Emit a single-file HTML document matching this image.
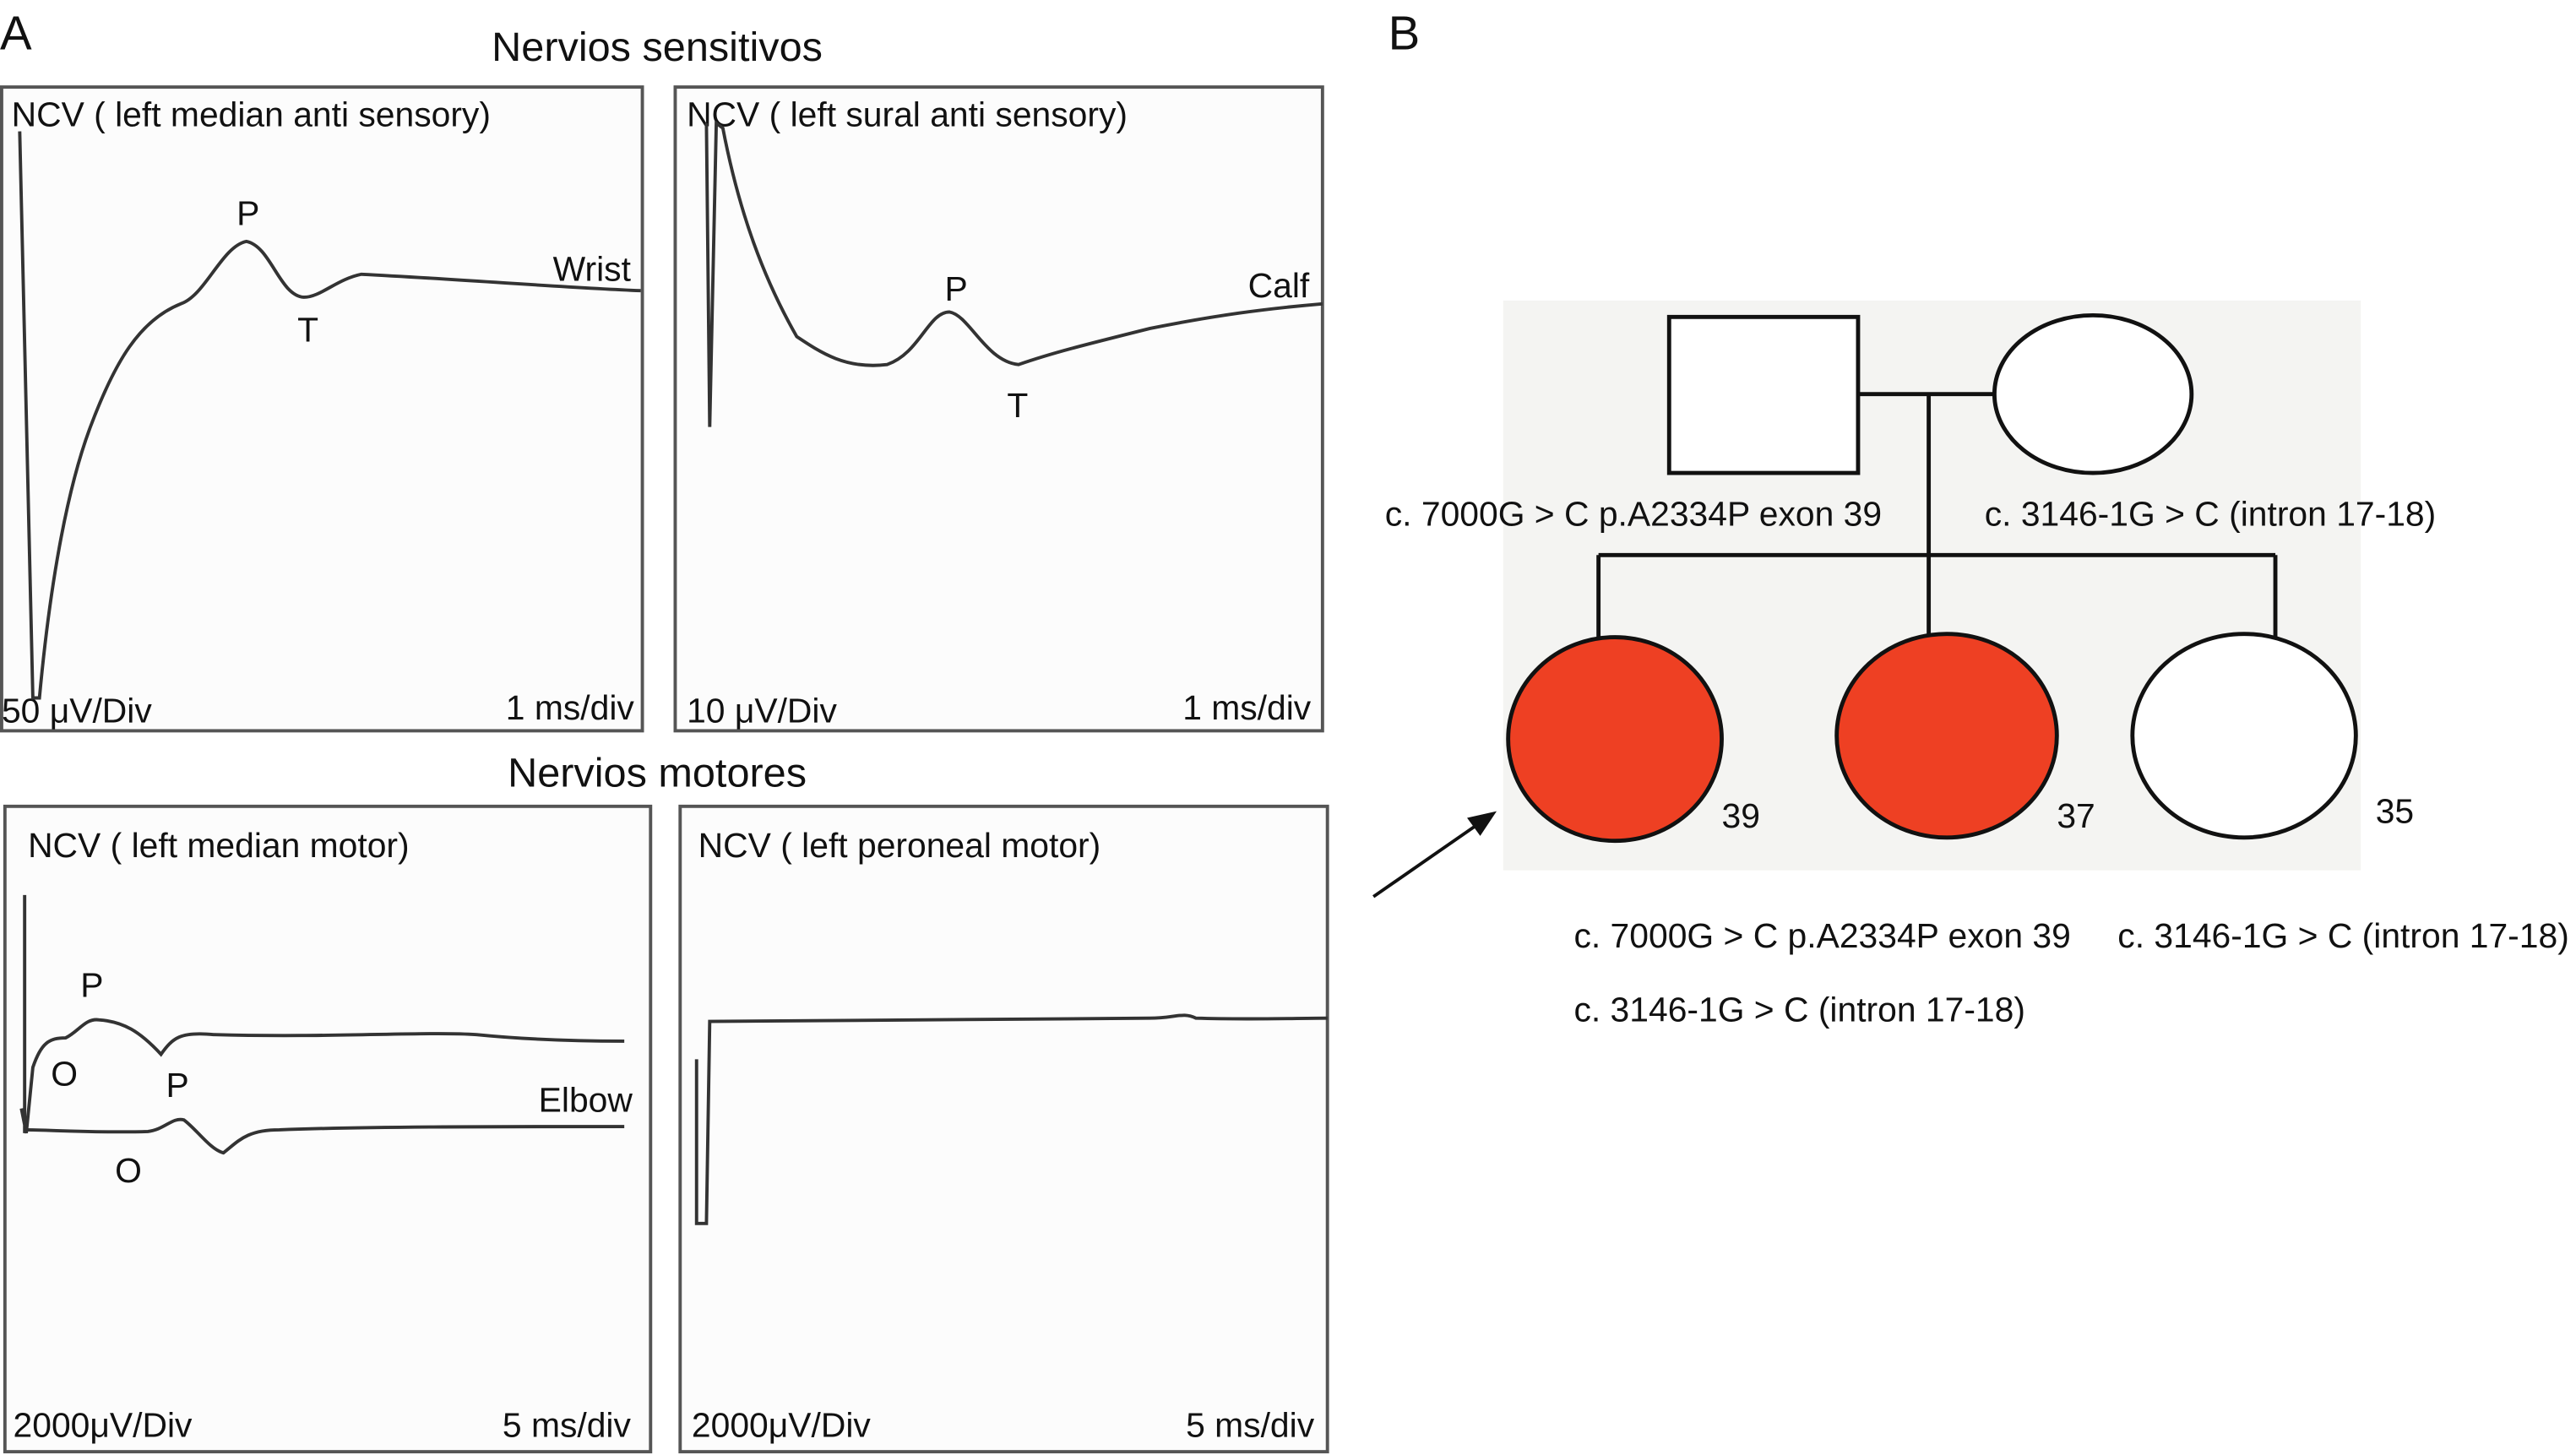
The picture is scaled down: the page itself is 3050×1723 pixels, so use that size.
<!DOCTYPE html>
<html><head><meta charset="utf-8"><style>
html,body{margin:0;padding:0;background:#fff;}
svg{display:block;}
text{font-family:"Liberation Sans",sans-serif;fill:#111;}
</style></head><body>
<svg width="3050" height="1723" viewBox="0 0 1568 886" preserveAspectRatio="none" xmlns="http://www.w3.org/2000/svg">
<text x="0" y="30" font-size="29">A</text>
<text x="400" y="37" font-size="25" text-anchor="middle">Nervios sensitivos</text>
<text x="400" y="479" font-size="25" text-anchor="middle">Nervios motores</text>
<text x="845" y="30" font-size="29">B</text>

<g fill="#fcfcfc" stroke="#555" stroke-width="2">
<rect x="1" y="53" width="390" height="392"/>
<rect x="411" y="53" width="394" height="392"/>
<rect x="3" y="491" width="393" height="393"/>
<rect x="414" y="491" width="394" height="393"/>
</g>

<g font-size="21">
<text x="7" y="77">NCV ( left median anti sensory)</text>
<text x="418" y="77">NCV ( left sural anti sensory)</text>
<text x="17" y="522">NCV ( left median motor)</text>
<text x="425" y="522">NCV ( left peroneal motor)</text>
<text x="1" y="440">50 μV/Div</text>
<text x="386" y="438" text-anchor="end">1 ms/div</text>
<text x="418" y="440">10 μV/Div</text>
<text x="798" y="438" text-anchor="end">1 ms/div</text>
<text x="8" y="875">2000μV/Div</text>
<text x="384" y="875" text-anchor="end">5 ms/div</text>
<text x="421" y="875">2000μV/Div</text>
<text x="800" y="875" text-anchor="end">5 ms/div</text>
<text x="384" y="171" text-anchor="end">Wrist</text>
<text x="797" y="181" text-anchor="end">Calf</text>
<text x="385" y="677" text-anchor="end">Elbow</text>
<text x="144" y="137">P</text><text x="181" y="208">T</text>
<text x="575" y="183">P</text><text x="613" y="254">T</text>
<text x="49" y="607">P</text><text x="31" y="661">O</text>
<text x="101" y="668">P</text><text x="70" y="720">O</text>
</g>

<g fill="none" stroke="#333" stroke-width="2">
<path d="M12,80 L20,425 L24,425 C30,360 40,300 55,260 C70,220 85,195 110,185 C125,180 135,150 150,147 C165,150 170,180 185,181 C195,181 205,170 220,167 C280,170 340,175 390,177"/>
<path d="M430,75 L432,260 L436,75 L440,78 C450,130 465,170 485,205 C500,215 515,225 540,222 C560,215 565,190 578,190 C590,192 600,220 620,222 C640,215 660,210 700,200 C740,192 770,188 805,185"/>
<path d="M15,545 L15,690 M13,675 L16,690 L20,650 C25,635 30,632 40,632 C48,628 52,620 60,621 C75,622 85,628 98,642 C105,632 110,628 130,630 C200,632 260,628 290,630 C320,633 350,634 380,634"/>
<path d="M15,688 C30,688 60,690 90,689 C100,688 105,680 112,682 C120,688 128,700 136,702 C145,695 150,688 170,688 C220,686 300,686 380,686"/>
<path d="M424,645 L424,745 L430,745 L432,622 C500,621 600,621 700,620 C715,620 720,616 728,620 C760,621 790,620 808,620"/>
</g>

<rect x="915" y="183" width="522" height="347" fill="#f4f4f2"/>
<g stroke="#111" stroke-width="2.5" fill="#fff">
<rect x="1016" y="193" width="115" height="95"/>
<ellipse cx="1274" cy="240" rx="60" ry="48"/>
<path d="M1131,240 H1214 M1174,240 V338 M973,338 H1385 M973,338 V390 M1174,338 V388 M1385,338 V388" fill="none"/>
<ellipse cx="983" cy="450" rx="65" ry="62" fill="#ee4023"/>
<ellipse cx="1185" cy="448" rx="67" ry="62" fill="#ee4023"/>
<ellipse cx="1366" cy="448" rx="68" ry="62"/>
</g>
<line x1="836" y1="546" x2="898" y2="503" stroke="#111" stroke-width="2"/>
<polygon points="911,494 893,498 901,509" fill="#111"/>
<g font-size="21">
<text x="1048" y="504">39</text>
<text x="1252" y="504">37</text>
<text x="1446" y="501">35</text>
<text x="843" y="320">c. 7000G &gt; C p.A2334P exon 39</text>
<text x="1208" y="320">c. 3146-1G &gt; C (intron 17-18)</text>
<text x="958" y="577">c. 7000G &gt; C p.A2334P exon 39</text>
<text x="1289" y="577">c. 3146-1G &gt; C (intron 17-18)</text>
<text x="958" y="622">c. 3146-1G &gt; C (intron 17-18)</text>
</g>
</svg>
</body></html>
